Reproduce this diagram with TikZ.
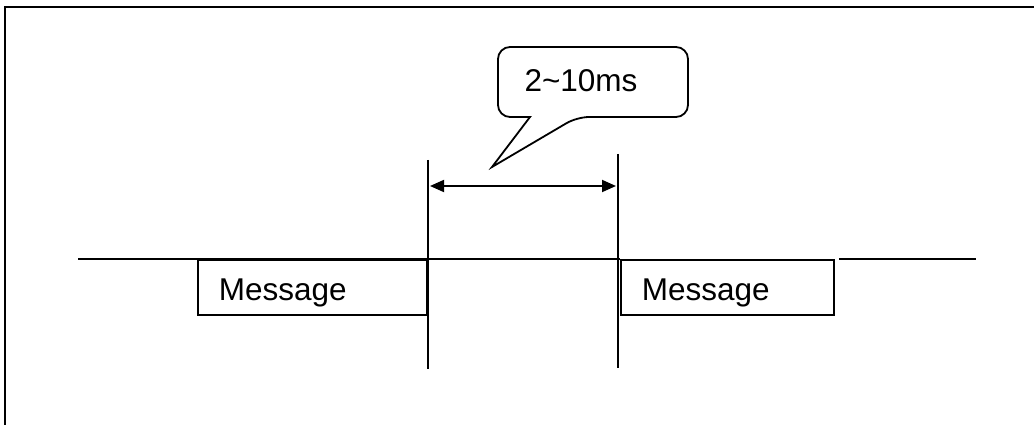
\documentclass[tikz,border=0pt]{standalone}
\usepackage{fontspec}
\setmainfont{Liberation Sans}
\usetikzlibrary{arrows.meta}
\begin{document}
\begin{tikzpicture}[x=1pt,y=-1pt,
  line/.style={draw=black,line width=1.8pt},
  msg/.style={line, anchor=north west, minimum height=55pt, inner xsep=21pt, text height=27pt, text depth=0pt, align=left, font=\fontsize{31.5}{36}\selectfont},
  dim/.style={line, {Triangle[length=14pt,width=12pt]}-{Triangle[length=14pt,width=12pt]}}]
\useasboundingbox (0,0) rectangle (1034,425);
% frame
\coordinate (fA) at (5,425);
\coordinate (fB) at (5,7);
\coordinate (fC) at (1034,7);
\draw[line, line width=2.6pt] (fA) -- (fB) -- (fC);
% message boxes
\node[msg, text width=187pt] (m1) at (197,259) {Message};
\node[msg, text width=171pt] (m2) at (620,259) {Message};
% bus line
\coordinate (b0) at (78,259);
\coordinate (b3) at (839,259);
\coordinate (b4) at (976,259);
\draw[line] (b0) -- (m1.north east) -- (m2.north west);
\draw[line] (b3) -- (b4);
% vertical markers
\coordinate (v1t) at (428,160);
\coordinate (v1b) at (428,369);
\coordinate (v2t) at (618,154);
\coordinate (v2b) at (618,368);
\draw[line] (v1t) -- (v1b);
\draw[line] (v2t) -- (v2b);
% dimension arrow
\coordinate (d1) at (430,186);
\coordinate (d2) at (616,186);
\draw[dim] (d1) -- (d2);
% callout
\node[font=\fontsize{31.5}{36}\selectfont, inner sep=0pt] (lbl) at (581,81) {2\textasciitilde10ms};
\coordinate (tip) at (492,167);
\draw[line] (530,117) [rounded corners=12pt] -- (498,117) -- (498,47) -- (688,47) -- (688,117) -- (577,117) [sharp corners] -- (tip) -- cycle;
\end{tikzpicture}
\end{document}
